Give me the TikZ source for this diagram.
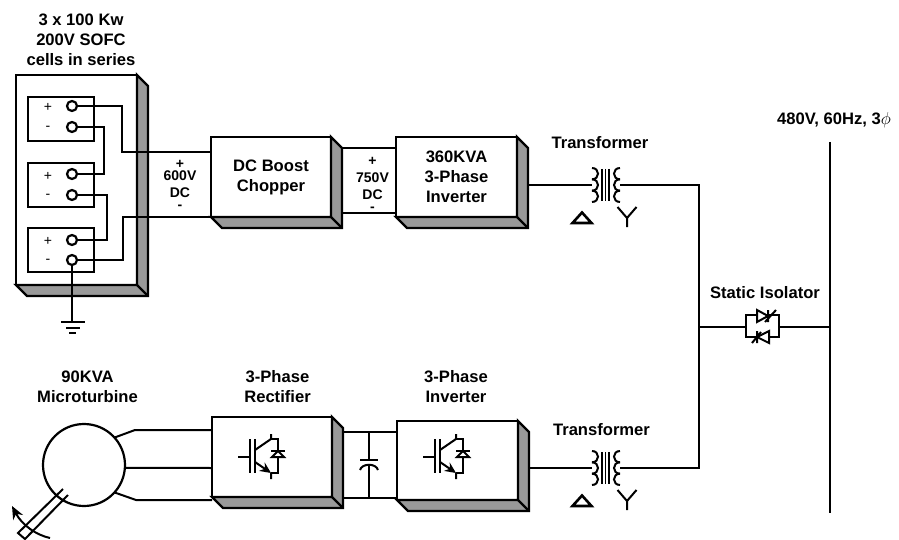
\documentclass[tikz,border=0pt]{standalone}
\usepackage{fontspec}
\setmainfont{Liberation Sans}
\usetikzlibrary{arrows.meta}
\definecolor{boxgray}{HTML}{999999}
\tikzset{
    wire/.style={line width=2pt},
    lbl/.style={font=\fontsize{16.6}{20}\selectfont\bfseries, align=center},
    vlbl/.style={font=\fontsize{14}{12}\selectfont\bfseries, align=center, inner sep=0pt},
    pole/.style={font=\fontsize{14}{17}\selectfont, inner sep=0pt},
    blockbox/.style={draw, fill=white, line width=2.4pt, outer sep=0pt, inner sep=0pt},
    cellbox/.style={draw, line width=2pt, outer sep=0pt, minimum width=66pt, minimum height=44pt},
    term/.style={draw, circle, fill=white, line width=2.2pt, minimum size=10pt, inner sep=0pt, outer sep=0pt}
}
% transformer with its two winding signs
\newcommand{\xfmr}[3]{
    \begin{scope}[shift={(#2,#3)}]
        \coordinate (#1L) at (-13.5,0);
        \coordinate (#1R) at (14.5,0);
        \foreach \i in {-17,-5.67,5.67} {
            \draw[wire] (-13.5,\i) .. controls (-5.5,\i) and (-5.5,\i+11.33) .. (-13.5,\i+11.33);
            \draw[wire] (14.5,\i) .. controls (6.5,\i) and (6.5,\i+11.33) .. (14.5,\i+11.33);
        }
        \foreach \i in {-3.5,0,3.5}
            \draw[line width=1.5pt] (\i,-16) -- (\i,16);
        \draw[line width=2.6pt, line join=miter] (-23.5,27.5) -- (-33,38) -- (-14,38) -- cycle;
        \draw[wire] (12,22) -- (21.5,33) -- (31,22) (21.5,33) -- (21.5,42);
    \end{scope}
}
% switch with its diode
\newcommand{\igbt}[2]{
    \begin{scope}[shift={(#1,#2)}]
        \draw[wire] (-33,0) -- (-21,0) (-21,-18) -- (-21,16) (-16,-18) -- (-16,16);
        \draw[wire] (-16,-7) -- (0,-18) -- (0,-23) (0,16) -- (0,22);
        \draw[wire, -{Stealth[length=11pt,width=10pt]}] (-16,5) -- (0,16);
        \draw[wire] (0,-18) -- (7,-18) -- (7,16) -- (0,16);
        \draw[wire, fill=white] (7,-6) -- (1,0) -- (13,0) -- cycle;
        \draw[wire] (0,-6) -- (14,-6);
    \end{scope}
}
\begin{document}
\begin{tikzpicture}[x=1pt, y=-1pt]
    \useasboundingbox (0,0) rectangle (899,540);
    % blocks
    \node[blockbox, minimum width=121pt, minimum height=210pt] (stack) at (76.5,180) {};
    \node[blockbox, minimum width=120pt, minimum height=80pt, lbl] (chopper) at (271,177) {DC Boost\\Chopper};
    \node[blockbox, minimum width=121pt, minimum height=80pt, lbl] (invA) at (456.5,177) {360KVA\\3-Phase\\Inverter};
    \node[blockbox, minimum width=120pt, minimum height=80pt] (rect) at (272,457) {};
    \node[blockbox, minimum width=121pt, minimum height=79pt] (invB) at (457.5,460.5) {};
    \foreach \b in {stack, chopper, invA, rect, invB} {
        \draw[fill=boxgray, line width=2.4pt] (\b.north east) -- ++(11,11) -- ([shift={(11,11)}]\b.south east) -- ([shift={(11,11)}]\b.south west) -- (\b.south west) -- (\b.south east) -- cycle;
        \draw[line width=2.4pt] (\b.south east) -- ++(11,11);
    }

    % cells
    \node[cellbox] (cellA) at (61,119) {};
    \node[cellbox] (cellB) at (61,185) {};
    \node[cellbox] (cellC) at (61,250) {};
    \node[pole] (plusA) at (48,107) {+};
    \node[pole] (minusA) at (48,128) {-};
    \node[pole] (plusB) at (48,176) {+};
    \node[pole] (minusB) at (48,196) {-};
    \node[pole] (plusC) at (48,241) {+};
    \node[pole] (minusC) at (48,261) {-};
    \coordinate (chopInA) at (211,152);
    \coordinate (chopInB) at (211,217);
    \coordinate (bendA) at (122,152);
    \coordinate (bendB) at (104,174);
    \coordinate (bendC) at (107,240);
    \coordinate (bendD) at (123,217);
    \coordinate (gndTop) at (72,322);
    \node[term] (posA) at (72,106) {};
    \node[term] (negA) at (72,127) {};
    \node[term] (posB) at (72,174) {};
    \node[term] (negB) at (72,195) {};
    \node[term] (posC) at (72,240) {};
    \node[term] (negC) at (72,260) {};
    \draw[wire] (posA) -| (bendA) -- (chopInA);
    \draw[wire] (negA) -| (bendB) -- (posB);
    \draw[wire] (negB) -| (bendC) -- (posC);
    \draw[wire] (negC) -| (bendD) -- (chopInB);
    \draw[wire] (negC) -- (gndTop);
    \draw[wire] (61,322) -- (85,322);
    \draw[wire] (66,327.5) -- (80,327.5);
    \draw[wire] (69,333) -- (76,333);

    % dc links
    \coordinate (linkAa) at (342,148);
    \coordinate (linkAb) at (396,148);
    \coordinate (linkAc) at (342,213);
    \coordinate (linkAd) at (396,213);
    \draw[wire] (linkAa) -- (linkAb);
    \draw[wire] (linkAc) -- (linkAd);
    \node[vlbl] (volt600) at (180,185) {+\\600V\\[5pt]DC\\-};
    \node[vlbl] (volt750) at (372.5,184) {+\\[5pt]750V\\[5pt]DC\\-};

    % microturbine
    \node[draw, circle, line width=2.2pt, minimum size=82pt, inner sep=0pt, outer sep=0pt] (gen) at (84,465) {};
    \coordinate (genA) at (135,430);
    \coordinate (genC) at (136,500);
    \coordinate (rectA) at (212,430);
    \coordinate (rectB) at (212,468);
    \coordinate (rectC) at (212,500);
    \draw[wire] (gen.42) -- (genA) -- (rectA);
    \draw[wire] (gen.-4) -- (rectB);
    \draw[wire] (gen.-42) -- (genC) -- (rectC);
    \draw[wire] (63,489) -- (18,533) -- (25,539) -- (68,495);
    \draw[wire, -{Stealth[length=13pt,width=11pt]}] (50,538) .. controls (36,535) and (22,525) .. (12,506);

    % rectifier and inverter
    \igbt{271}{457}
    \igbt{456}{457}
    \coordinate (linkBa) at (343,432);
    \coordinate (linkBb) at (397,432);
    \coordinate (linkBc) at (343,498);
    \coordinate (linkBd) at (397,498);
    \coordinate (capTop) at (369,432);
    \coordinate (capBot) at (369,498);
    \coordinate (plateA) at (369,460);
    \coordinate (plateB) at (369,466);
    \draw[wire] (linkBa) -- (linkBb);
    \draw[wire] (linkBc) -- (linkBd);
    \draw[wire] (capTop) -- (plateA);
    \draw[wire] (plateB) -- (capBot);
    \draw[wire] (360,460) -- (378,460);
    \draw[wire] (360,470) .. controls (362,463) and (376,463) .. (378,470);

    % transformers, bus and isolator
    \xfmr{trA}{605.5}{185}
    \xfmr{trB}{605.5}{468}
    \coordinate (invAout) at (528,185);
    \coordinate (invBout) at (529,468);
    \coordinate (joinTop) at (699,185);
    \coordinate (joinBot) at (699,468);
    \coordinate (joinMid) at (699,327);
    \coordinate (isoL) at (746,327);
    \coordinate (isoR) at (779,327);
    \coordinate (busTop) at (830,142);
    \coordinate (busBot) at (830,513);
    \coordinate (busMid) at (830,327);
    \draw[wire] (invAout) -- (trAL);
    \draw[wire] (invBout) -- (trBL);
    \draw[wire] (trAR) -- (joinTop) -- (joinBot) -- (trBR);
    \draw[wire] (joinMid) -- (isoL);
    \draw[wire] (isoR) -- (busMid);
    \draw[line width=2.4pt] (busTop) -- (busBot);
    \draw[wire] (746,315) rectangle (779,337);
    \draw[wire, fill=white] (757,310) -- (768,316) -- (757,322) -- cycle;
    \draw[wire] (768,310) -- (768,322) (765,322) -- (776,310);
    \draw[wire, fill=white] (769,331) -- (757,337) -- (769,343) -- cycle;
    \draw[wire] (757,331) -- (757,343) (752,343) -- (761,332);

    % labels
    \node[lbl] (stackLbl) at (81,40) {3 x 100 Kw\\200V SOFC\\cells in series};
    \node[lbl] (genLbl) at (87.5,387) {90KVA\\Microturbine};
    \node[lbl] (rectLbl) at (277.5,387) {3-Phase\\Rectifier};
    \node[lbl] (invLbl) at (456,387) {3-Phase\\Inverter};
    \node[lbl] (trALbl) at (600,143) {Transformer};
    \node[lbl] (trBLbl) at (601.5,430) {Transformer};
    \node[lbl] (isoLbl) at (765,293) {Static Isolator};
    \node[lbl] (busLbl) at (834,120) {480V, 60Hz, 3$\phi$};
\end{tikzpicture}
\end{document}
